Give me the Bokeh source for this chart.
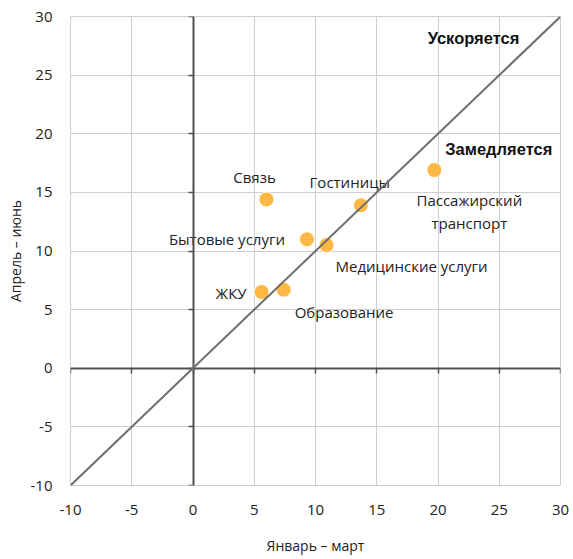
from bokeh.plotting import figure
from bokeh.models import (ColumnDataSource, Range1d, FixedTicker, LinearAxis, Slope, Label,
                          PrintfTickFormatter)
from bokeh.core.properties import value
from bokeh.embed import file_html
from bokeh.resources import INLINE

# Data
categories = ["Связь", "Гостиницы", "Пассажирский\nтранспорт", "Бытовые услуги",
              "Медицинские услуги", "ЖКУ", "Образование"]
jan_mar = [6.0, 13.7, 19.7, 9.3, 10.9, 5.6, 7.4]
apr_jun = [14.4, 13.9, 16.9, 11.0, 10.5, 6.5, 6.7]
ticks = [-10, -5, 0, 5, 10, 15, 20, 25, 30]

# Label styling (pixel offsets relative to points)
label_dx = [-12, -11, 35, -22, 9, -15, 11]
label_dy = [-22, -23, 41, 0, 21, 1, 22]
label_align = ["center", "center", "center", "right", "left", "right", "left"]

FONT = "Open Sans"

src = ColumnDataSource(dict(x=jan_mar, y=apr_jun, name=categories,
                            dx=label_dx, dy=label_dy, align=label_align))

p = figure(width=571, height=557, output_backend="svg", toolbar_location=None,
           x_range=Range1d(-10, 30), y_range=Range1d(-10, 30),
           min_border_left=70, min_border_right=11, min_border_top=16, min_border_bottom=70)

p.outline_line_color = "#cfcfcf"
p.outline_line_width = 1
for g in (p.xgrid, p.ygrid):
    g.grid_line_color = "#cfcfcf"
    g.grid_line_width = 1
p.xaxis.ticker = FixedTicker(ticks=ticks)
p.yaxis.ticker = FixedTicker(ticks=ticks)
p.xaxis.formatter = PrintfTickFormatter(format="%d")
p.yaxis.formatter = PrintfTickFormatter(format="%d")

for ax in (p.xaxis[0], p.yaxis[0]):
    ax.axis_line_color = None
    ax.major_tick_line_color = None
    ax.minor_tick_line_color = None
    ax.major_tick_out = 0
    ax.major_tick_in = 0
    ax.major_label_text_font = FONT
    ax.major_label_text_font_size = "15px"
    ax.major_label_text_color = "#222222"
    ax.axis_label_text_font = FONT
    ax.axis_label_text_font_size = "14px"
    ax.axis_label_text_font_style = "normal"
    ax.axis_label_text_color = "#222222"

p.xaxis.axis_label = "Январь – март"
p.yaxis.axis_label = "Апрель – июнь"
p.xaxis.major_label_standoff = 19
p.xaxis.axis_label_standoff = 18
p.yaxis.major_label_standoff = 18
p.yaxis.axis_label_standoff = 3

# Zero axes with small ticks
xzero = LinearAxis(fixed_location=0, ticker=FixedTicker(ticks=ticks))
xzero.axis_line_color = "#505050"
xzero.axis_line_width = 2
xzero.major_tick_line_color = "#505050"
xzero.major_tick_line_width = 1.5
xzero.major_tick_out = 5
xzero.major_tick_in = 0
xzero.minor_tick_line_color = None
xzero.major_label_text_color = None
xzero.major_label_text_font_size = "0px"
p.add_layout(xzero, "below")

yzero = LinearAxis(fixed_location=0, ticker=FixedTicker(ticks=ticks))
yzero.axis_line_color = "#505050"
yzero.axis_line_width = 2
yzero.major_tick_line_color = "#505050"
yzero.major_tick_line_width = 1.5
yzero.major_tick_out = 5
yzero.major_tick_in = 0
yzero.minor_tick_line_color = None
yzero.major_label_text_color = None
yzero.major_label_text_font_size = "0px"
p.add_layout(yzero, "left")

# Diagonal y = x
p.add_layout(Slope(gradient=1, y_intercept=0, line_color="#6e6e6e", line_width=2))

p.scatter("x", "y", source=src, size=15, fill_color="#FFB844", line_color="white",
          line_width=1)

p.text("x", "y", text="name", source=src, x_offset="dx", y_offset="dy",
       text_align="align", text_baseline="middle", text_font=value(FONT),
       text_font_size="15px", text_color="#222222", text_line_height=1.15)

p.add_layout(Label(x=22.9, y=28.2, text="Ускоряется", text_align="center",
                   text_baseline="middle", text_font="Liberation Sans",
                   text_font_style="bold", text_font_size="16.5px", text_color="#111111"))
p.add_layout(Label(x=24.96, y=18.66, text="Замедляется", text_align="center",
                   text_baseline="middle", text_font="Liberation Sans",
                   text_font_style="bold", text_font_size="16.5px", text_color="#111111"))

open("out.html", "w").write(file_html(p, INLINE))
